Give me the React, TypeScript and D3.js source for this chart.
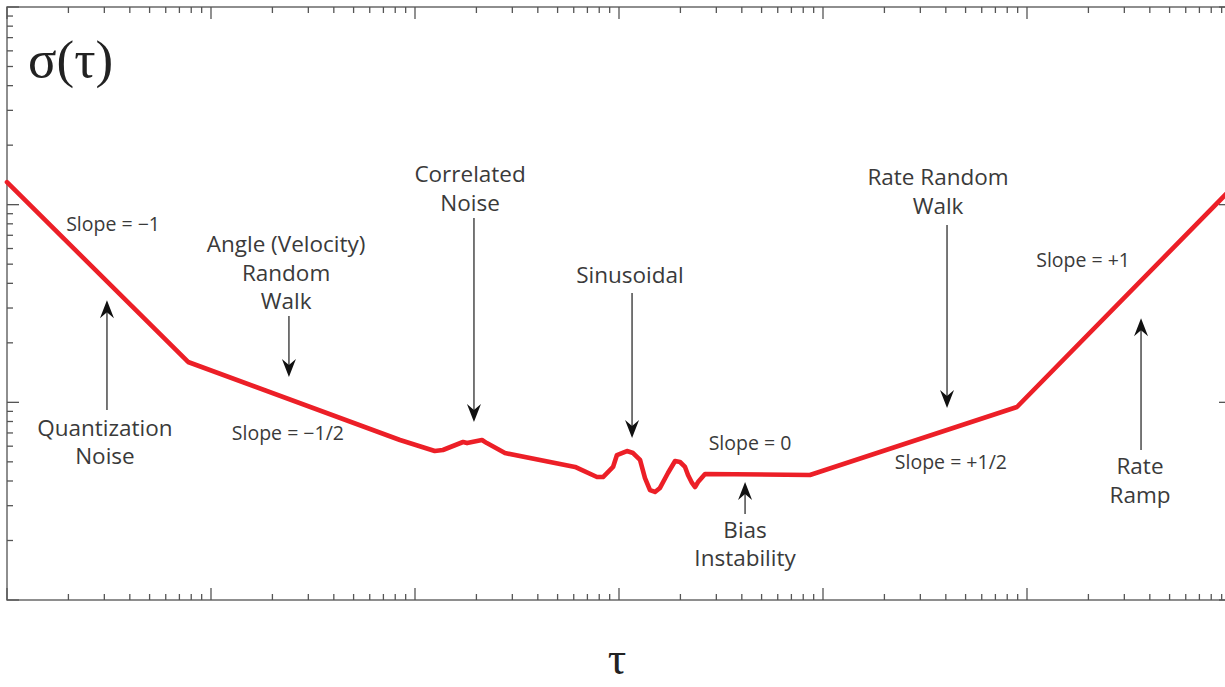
import React from 'react';
import * as d3 from 'd3';

// Allan deviation curve: averaging time tau vs sigma(tau) (arbitrary units, log-log)
const TAU = [1, 7.72, 84.4, 125, 137, 172, 180, 213, 225, 276, 609, 659, 780, 835, 935, 977, 1094, 1172, 1268, 1341, 1419, 1501, 1588, 1738, 1883, 1991, 2107, 2179, 2280, 2360, 2440, 2641, 8630, 89300, 1000000];
const SIGMA = [130, 16.0, 6.45, 5.67, 5.74, 6.30, 6.22, 6.45, 6.22, 5.54, 4.71, 4.54, 4.19, 4.19, 4.71, 5.41, 5.67, 5.54, 5.11, 4.14, 3.60, 3.52, 3.69, 4.39, 5.05, 4.99, 4.71, 4.29, 3.91, 3.73, 3.95, 4.34, 4.29, 9.47, 120];

const TAU_DOMAIN = [1, 1e6];
const SIGMA_DOMAIN = [1, 1000];

// Text labels anchored in data space (tau, sigma of first baseline)
const NAME_LABELS = [
  { lines: ['Quantization', 'Noise'], tau: 10 ** 0.480, sigma: 10 ** 0.830 },
  { lines: ['Angle (Velocity)', 'Random', 'Walk'], tau: 10 ** 1.368, sigma: 10 ** 1.760 },
  { lines: ['Correlated', 'Noise'], tau: 10 ** 2.270, sigma: 10 ** 2.114 },
  { lines: ['Sinusoidal'], tau: 10 ** 3.054, sigma: 10 ** 1.604 },
  { lines: ['Bias', 'Instability'], tau: 10 ** 3.618, sigma: 10 ** 0.314 },
  { lines: ['Rate Random', 'Walk'], tau: 10 ** 4.564, sigma: 10 ** 2.099 },
  { lines: ['Rate', 'Ramp'], tau: 10 ** 5.554, sigma: 10 ** 0.637 },
];

const SLOPE_LABELS = [
  { text: 'Slope = \u22121', tau: 10 ** 0.520, sigma: 10 ** 1.866 },
  { text: 'Slope = \u22121/2', tau: 10 ** 1.377, sigma: 10 ** 0.809 },
  { text: 'Slope = 0', tau: 10 ** 3.642, sigma: 10 ** 0.759 },
  { text: 'Slope = +1/2', tau: 10 ** 4.627, sigma: 10 ** 0.663 },
  { text: 'Slope = +1', tau: 10 ** 5.275, sigma: 10 ** 1.684 },
];

// Arrows: tail -> tip (data space)
const ARROWS = [
  { tau: 10 ** 0.490, from: 10 ** 0.961, to: 10 ** 1.517 },
  { tau: 10 ** 1.382, from: 10 ** 1.437, to: 10 ** 1.128 },
  { tau: 10 ** 2.289, from: 10 ** 1.932, to: 10 ** 0.900 },
  { tau: 10 ** 3.064, from: 10 ** 1.553, to: 10 ** 0.819 },
  { tau: 10 ** 3.618, from: 10 ** 0.435, to: 10 ** 0.597 },
  { tau: 10 ** 4.608, from: 10 ** 1.897, to: 10 ** 0.971 },
  { tau: 10 ** 5.559, from: 10 ** 0.759, to: 10 ** 1.426 },
];

const W = 1225;
const H = 687;
const LEFT = 7;
const TOP = 7;
const BOTTOM = 600;
const RIGHT = 1231;

const FONT = '"Open Sans", "Noto Sans", sans-serif';
const SERIF = '"Liberation Serif", "DejaVu Serif", serif';
const TEXT_COLOR = '#3a3a3a';

export default function App() {
  const x = d3.scaleLog().domain(TAU_DOMAIN).range([LEFT, RIGHT]);
  const y = d3.scaleLog().domain(SIGMA_DOMAIN).range([BOTTOM, TOP]);

  const pts = TAU.map((t, i) => [t, SIGMA[i]] as [number, number]);
  const line = d3
    .line<[number, number]>()
    .x((d) => x(d[0]))
    .y((d) => y(d[1]));

  const isMajor = (v: number) => Math.abs(Math.log10(v) - Math.round(Math.log10(v))) < 1e-6;
  const xTicks = x.ticks();
  const yTicks = y.ticks();
  const MAJ = 12;
  const MIN = 6;
  const tickColor = '#555';

  const arrowHead = (tx: number, ty: number, dir: number) => {
    // dir = 1 pointing down, -1 pointing up
    const L = 18;
    const hw = 7;
    const notch = 12;
    return `M${tx},${ty} L${tx - hw},${ty - dir * L} L${tx},${ty - dir * notch} L${tx + hw},${ty - dir * L} Z`;
  };

  return (
    <svg
      width={W}
      height={H}
      style={{ position: 'absolute', left: 0, top: 0, background: '#fff' }}
    >
      <rect x={0} y={0} width={W} height={H} fill="#fff" />
      {/* frame */}
      <rect
        x={LEFT}
        y={TOP}
        width={RIGHT - LEFT}
        height={BOTTOM - TOP}
        fill="none"
        stroke="#6a6a6a"
        strokeWidth={1.5}
      />
      {/* x ticks (bottom & top, inward) */}
      {xTicks.map((v, i) => {
        const px = x(v);
        const len = isMajor(v) ? MAJ : MIN;
        return (
          <g key={'xt' + i} stroke={tickColor} strokeWidth={1.3}>
            <line x1={px} x2={px} y1={BOTTOM} y2={BOTTOM - len} />
            <line x1={px} x2={px} y1={TOP} y2={TOP + len} />
          </g>
        );
      })}
      {/* y ticks (left & right, inward) */}
      {yTicks.map((v, i) => {
        const py = y(v);
        const len = isMajor(v) ? MAJ : MIN;
        return (
          <g key={'yt' + i} stroke={tickColor} strokeWidth={1.3}>
            <line x1={LEFT} x2={LEFT + len} y1={py} y2={py} />
            <line x1={RIGHT} x2={RIGHT - len} y1={py} y2={py} />
          </g>
        );
      })}

      {/* arrows */}
      {ARROWS.map((a, i) => {
        const px = x(a.tau);
        const y1 = y(a.from);
        const y2 = y(a.to);
        const dir = y2 > y1 ? 1 : -1;
        return (
          <g key={'ar' + i}>
            <line x1={px} x2={px} y1={y1} y2={y2 - dir * 10} stroke="#555" strokeWidth={1.6} />
            <path d={arrowHead(px, y2, dir)} fill="#111" />
          </g>
        );
      })}

      {/* curve */}
      <path
        d={line(pts) || ''}
        fill="none"
        stroke="#ec1f27"
        strokeWidth={4.6}
        strokeLinejoin="round"
        strokeLinecap="round"
      />

      {/* name labels */}
      {NAME_LABELS.map((l, i) => (
        <text
          key={'nl' + i}
          x={x(l.tau)}
          y={y(l.sigma)}
          textAnchor="middle"
          fontFamily={FONT}
          fontSize={22.5}
          fill={TEXT_COLOR}
        >
          {l.lines.map((s, j) => (
            <tspan key={j} x={x(l.tau)} dy={j === 0 ? 0 : 28.5}>
              {s}
            </tspan>
          ))}
        </text>
      ))}

      {/* slope labels */}
      {SLOPE_LABELS.map((l, i) => (
        <text
          key={'sl' + i}
          x={x(l.tau)}
          y={y(l.sigma)}
          textAnchor="middle"
          fontFamily={FONT}
          fontSize={19.5}
          fill={TEXT_COLOR}
        >
          {l.text}
        </text>
      ))}

      {/* axis titles */}
      <text x={28} y={77} fontFamily={SERIF} fontSize={53} fill="#222">
        σ(τ)
      </text>
      <text x={617} y={674} textAnchor="middle" fontFamily={SERIF} fontSize={46} fill="#222">
        τ
      </text>
    </svg>
  );
}
